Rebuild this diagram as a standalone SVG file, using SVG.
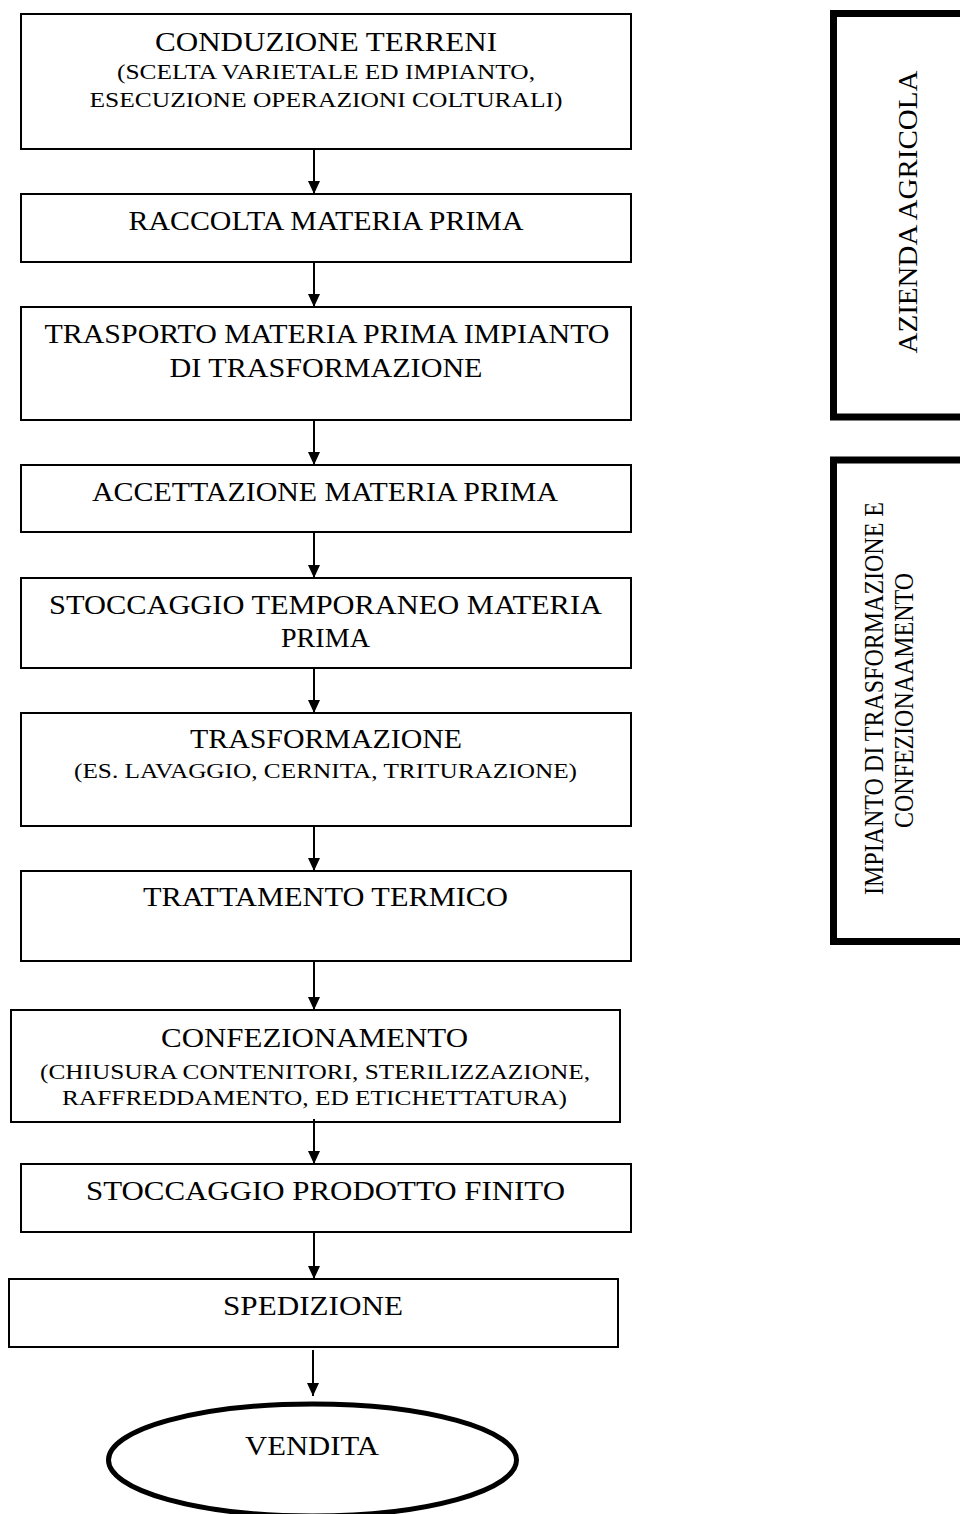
<svg xmlns="http://www.w3.org/2000/svg" width="960" height="1514" viewBox="0 0 960 1514">
  <style>
    .box { fill: #ffffff; stroke: #000000; stroke-width: 2; }
    .zone { fill: none; stroke: #000000; stroke-width: 7; }
    .term { fill: #ffffff; stroke: #000000; stroke-width: 5; }
    .flow { stroke: #000000; stroke-width: 2; fill: none; marker-end: url(#head); }
    text { font-family: "Liberation Serif", "Times New Roman", serif; fill: #000000; text-anchor: middle; }
    .t { font-size: 28px; }
    .s { font-size: 22px; }
    .v { font-size: 28px; }
  </style>
  <defs>
    <marker id="head" viewBox="0 0 13 12" refX="13" refY="6" markerWidth="13" markerHeight="12" markerUnits="userSpaceOnUse" orient="auto">
      <path d="M0,0 L13,6 L0,12 z" fill="#000000"/>
    </marker>
  </defs>

  <rect width="960" height="1514" fill="#ffffff"/>

  <!-- process steps -->
  <g id="conduzione-terreni">
    <rect class="box" x="21" y="14" width="610" height="135"/>
    <text class="t" x="326" y="51" textLength="342" lengthAdjust="spacingAndGlyphs">CONDUZIONE TERRENI</text>
    <text class="s" x="326" y="79" textLength="418" lengthAdjust="spacingAndGlyphs">(SCELTA VARIETALE ED IMPIANTO,</text>
    <text class="s" x="326" y="107" textLength="473" lengthAdjust="spacingAndGlyphs">ESECUZIONE OPERAZIONI COLTURALI)</text>
  </g>
  <g id="raccolta">
    <rect class="box" x="21" y="194" width="610" height="68"/>
    <text class="t" x="326" y="230" textLength="395" lengthAdjust="spacingAndGlyphs">RACCOLTA MATERIA PRIMA</text>
  </g>
  <g id="trasporto">
    <rect class="box" x="21" y="307" width="610" height="113"/>
    <text class="t" x="327" y="343" textLength="565" lengthAdjust="spacingAndGlyphs">TRASPORTO MATERIA PRIMA IMPIANTO</text>
    <text class="t" x="326" y="377" textLength="313" lengthAdjust="spacingAndGlyphs">DI TRASFORMAZIONE</text>
  </g>
  <g id="accettazione">
    <rect class="box" x="21" y="465" width="610" height="67"/>
    <text class="t" x="325" y="501" textLength="466" lengthAdjust="spacingAndGlyphs">ACCETTAZIONE MATERIA PRIMA</text>
  </g>
  <g id="stoccaggio-temporaneo">
    <rect class="box" x="21" y="578" width="610" height="90"/>
    <text class="t" x="325.5" y="614" textLength="553" lengthAdjust="spacingAndGlyphs">STOCCAGGIO TEMPORANEO MATERIA</text>
    <text class="t" x="325.5" y="647" textLength="89" lengthAdjust="spacingAndGlyphs">PRIMA</text>
  </g>
  <g id="trasformazione">
    <rect class="box" x="21" y="713" width="610" height="113"/>
    <text class="t" x="326" y="748" textLength="272" lengthAdjust="spacingAndGlyphs">TRASFORMAZIONE</text>
    <text class="s" x="325.5" y="778" textLength="503" lengthAdjust="spacingAndGlyphs">(ES. LAVAGGIO, CERNITA, TRITURAZIONE)</text>
  </g>
  <g id="trattamento-termico">
    <rect class="box" x="21" y="871" width="610" height="90"/>
    <text class="t" x="325.5" y="906" textLength="365" lengthAdjust="spacingAndGlyphs">TRATTAMENTO TERMICO</text>
  </g>
  <g id="confezionamento">
    <rect class="box" x="11" y="1010" width="609" height="112"/>
    <text class="t" x="314.5" y="1047" textLength="307" lengthAdjust="spacingAndGlyphs">CONFEZIONAMENTO</text>
    <text class="s" x="315" y="1079" textLength="550" lengthAdjust="spacingAndGlyphs">(CHIUSURA CONTENITORI, STERILIZZAZIONE,</text>
    <text class="s" x="314.5" y="1105" textLength="505" lengthAdjust="spacingAndGlyphs">RAFFREDDAMENTO, ED ETICHETTATURA)</text>
  </g>
  <g id="stoccaggio-prodotto">
    <rect class="box" x="21" y="1164" width="610" height="68"/>
    <text class="t" x="325.5" y="1200" textLength="479" lengthAdjust="spacingAndGlyphs">STOCCAGGIO PRODOTTO FINITO</text>
  </g>
  <g id="spedizione">
    <rect class="box" x="9" y="1279" width="609" height="68"/>
    <text class="t" x="313" y="1315" textLength="180" lengthAdjust="spacingAndGlyphs">SPEDIZIONE</text>
  </g>
  <g id="vendita">
    <ellipse class="term" cx="312.5" cy="1460" rx="204" ry="56"/>
    <text class="t" x="312" y="1455" textLength="134" lengthAdjust="spacingAndGlyphs">VENDITA</text>
  </g>

  <!-- side brackets naming where each phase happens -->
  <g id="azienda-agricola">
    <rect class="zone" x="833.5" y="13.5" width="140" height="403.5"/>
    <text class="v" transform="translate(917 212) rotate(-90)" textLength="283" lengthAdjust="spacingAndGlyphs">AZIENDA AGRICOLA</text>
  </g>
  <g id="impianto">
    <rect class="zone" x="833.5" y="460" width="140" height="481.5"/>
    <text class="v" transform="translate(883 698.5) rotate(-90)" textLength="393" lengthAdjust="spacingAndGlyphs">IMPIANTO DI TRASFORMAZIONE E</text>
    <text class="v" transform="translate(913 700.5) rotate(-90)" textLength="255" lengthAdjust="spacingAndGlyphs">CONFEZIONAAMENTO</text>
  </g>

  <!-- connectors -->
  <g id="connectors">
    <line class="flow" x1="314" y1="149" x2="314" y2="194"/>
    <line class="flow" x1="314" y1="262" x2="314" y2="307"/>
    <line class="flow" x1="314" y1="420" x2="314" y2="465"/>
    <line class="flow" x1="314" y1="532" x2="314" y2="578"/>
    <line class="flow" x1="314" y1="668" x2="314" y2="713"/>
    <line class="flow" x1="314" y1="826" x2="314" y2="871"/>
    <line class="flow" x1="314" y1="961" x2="314" y2="1010"/>
    <line class="flow" x1="314" y1="1119" x2="314" y2="1164"/>
    <line class="flow" x1="314" y1="1232" x2="314" y2="1279"/>
    <line class="flow" x1="313" y1="1350" x2="313" y2="1396"/>
  </g>
</svg>
